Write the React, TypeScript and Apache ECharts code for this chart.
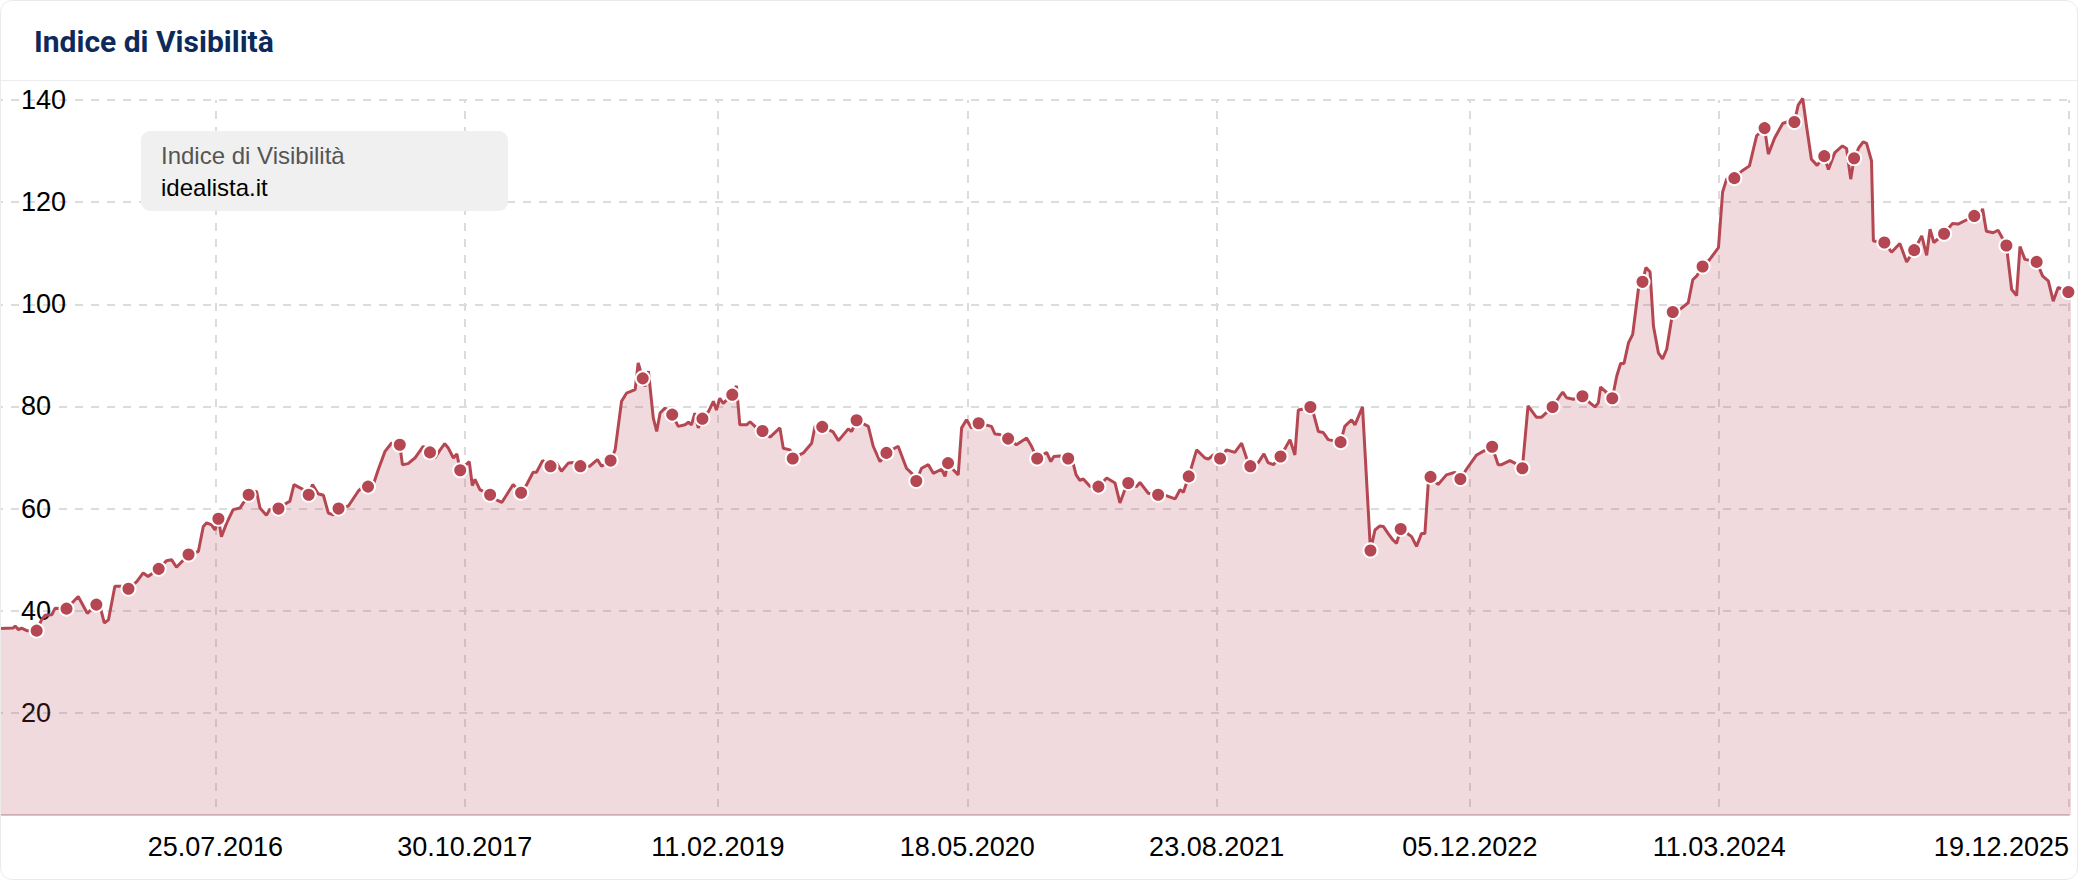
import React, { useEffect, useRef } from "react";
import * as echarts from "echarts";

// ---- data (weeks counted from the first data date, 22.06.2015) ----
const startDate = "22.06.2015";
const endDate = "19.12.2025";
const tickLabels = [
  "25.07.2016",
  "30.10.2017",
  "11.02.2019",
  "18.05.2020",
  "23.08.2021",
  "05.12.2022",
  "11.03.2024",
  "19.12.2025",
];

// line vertices [week, value]
const linePoints: [number, number][] = [
  [0, 36.5], [3.5, 36.6], [4.0, 37.0], [4.9, 36.3], [5.7, 36.6], [7.1, 36.1],
  [11.0, 38.2], [11.9, 39.1], [13.7, 39.2], [14.6, 40.5],
  [20.7, 42.8], [23.1, 39.5], [24.3, 40.3],
  [26.5, 40.8], [27.6, 37.6], [28.7, 38.2], [30.4, 44.8], [32.6, 44.8],
  [36.2, 45.7], [37.9, 47.4], [39.2, 46.7],
  [44.1, 49.8], [45.4, 50.0], [46.7, 48.5], [48.1, 49.6],
  [52.5, 51.6], [53.8, 56.5], [54.7, 57.2], [56.0, 56.8], [56.9, 55.8],
  [58.6, 54.5], [60.0, 57.2], [61.7, 59.8], [63.5, 60.1], [64.4, 61.1],
  [67.9, 63.4], [68.8, 60.1], [70.5, 58.7], [71.4, 59.8],
  [75.9, 61.1], [76.7, 61.4], [77.8, 64.7], [80.3, 63.7],
  [82.7, 64.7], [84.2, 62.9], [85.6, 62.6], [86.9, 59.1], [88.2, 58.8],
  [92.2, 60.5], [94.8, 63.4], [96.1, 64.3],
  [98.8, 64.7], [100.1, 67.6], [101.9, 71.2], [103.6, 72.8],
  [106.5, 68.6], [108.0, 68.8], [109.8, 69.9], [112.0, 72.2],
  [115.1, 69.9], [116.4, 71.4], [117.7, 72.7], [118.6, 71.9], [120.0, 69.9], [120.9, 70.7],
  [124.2, 69.2], [125.0, 64.5], [125.7, 65.7], [127.0, 63.7],
  [131.4, 61.7], [132.8, 61.2], [134.1, 62.7], [135.8, 64.7],
  [139.4, 64.7], [141.1, 67.1], [142.0, 67.1], [143.6, 69.4],
  [147.3, 68.9], [148.6, 67.3], [150.4, 68.9], [152.2, 69.0],
  [156.1, 68.3], [158.1, 69.6], [159.2, 68.3],
  [162.8, 71.5], [164.5, 81.0], [165.8, 82.6], [168.1, 83.3], [168.9, 88.5],
  [170.7, 83.9], [171.6, 86.9], [172.9, 77.7], [173.8, 75.1], [174.7, 78.7], [176.0, 79.7],
  [179.5, 76.1], [181.3, 76.4], [182.2, 76.9], [183.0, 76.4], [183.9, 78.7], [184.8, 75.8],
  [187.5, 79.0], [188.8, 81.0], [189.6, 79.3], [190.5, 81.6], [191.4, 80.6],
  [194.9, 84.0], [195.8, 76.4], [197.6, 76.4], [198.5, 77.0], [199.8, 76.1],
  [203.8, 74.0], [206.4, 75.8], [207.3, 71.8], [209.1, 71.5],
  [212.6, 70.9], [214.8, 72.8], [215.7, 76.1],
  [220.5, 75.0], [221.9, 73.3], [224.5, 75.6], [225.4, 75.1],
  [229.8, 76.1], [231.1, 72.2], [232.9, 69.2],
  [237.7, 72.2], [239.9, 67.9], [241.3, 66.9],
  [243.9, 67.9], [245.7, 68.6], [247.0, 66.9], [249.2, 67.7], [250.1, 66.3],
  [252.3, 67.6], [253.6, 66.6], [254.5, 75.8], [255.8, 77.4], [257.1, 75.8],
  [262.4, 76.1], [263.3, 74.6], [264.6, 74.5],
  [269.0, 72.5], [271.7, 73.8], [273.0, 72.2],
  [277.0, 71.0], [278.1, 69.2], [278.9, 70.2], [280.5, 70.3],
  [284.1, 68.6], [284.8, 66.6], [285.8, 65.5], [286.7, 65.8], [288.5, 64.3],
  [292.9, 66.0], [295.1, 65.0], [296.4, 61.1], [297.7, 63.7],
  [300.8, 64.3], [301.7, 65.1], [303.9, 63.0],
  [308.8, 62.5], [311.0, 61.9], [312.3, 63.7], [313.2, 63.2],
  [316.7, 71.5], [318.9, 69.9], [319.8, 69.7], [321.1, 70.5],
  [324.6, 71.5], [326.8, 71.0], [328.6, 72.8], [329.9, 69.9],
  [333.0, 69.0], [334.5, 70.7], [335.6, 69.0], [337.0, 68.6],
  [341.4, 73.5], [342.7, 70.5], [343.6, 79.3], [344.9, 79.5],
  [347.6, 78.7], [348.9, 75.1], [350.2, 74.9], [351.5, 73.5], [352.8, 73.3],
  [355.9, 76.1], [357.7, 77.4], [358.6, 76.4], [360.6, 79.9],
  [363.9, 55.8], [365.2, 56.6], [366.1, 56.5], [367.4, 55.1], [368.7, 53.8], [369.6, 53.2],
  [372.3, 55.2], [373.6, 54.5], [374.9, 52.6], [376.2, 55.1], [377.1, 55.1], [378.0, 65.0],
  [380.6, 64.7], [382.8, 66.6], [385.0, 67.1],
  [388.1, 67.7], [390.8, 70.5], [392.5, 71.2],
  [396.5, 68.6], [397.4, 68.6], [399.6, 69.4], [400.9, 68.9],
  [404.4, 80.1], [406.6, 77.9], [408.0, 77.9],
  [412.8, 82.0], [413.6, 82.8], [414.6, 81.7], [416.4, 81.4],
  [420.8, 80.7], [422.1, 79.9], [423.0, 80.7], [423.6, 83.8], [424.8, 83.0],
  [427.9, 86.0], [428.9, 88.4], [429.8, 88.4], [431.0, 92.5], [432.1, 94.1], [433.6, 102.9],
  [435.6, 107.2], [436.7, 106.3], [437.6, 95.7], [438.9, 90.5], [440.0, 89.3], [441.1, 91.2],
  [444.6, 99.0], [446.8, 100.3], [448.0, 104.8], [449.0, 105.5],
  [452.5, 108.8], [454.8, 111.1], [455.9, 122.0], [457.0, 124.6],
  [461.0, 126.1], [463.0, 127.1], [464.9, 133.0],
  [468.0, 129.4], [469.7, 132.6], [471.8, 135.4], [473.7, 135.9],
  [475.9, 139.0], [477.1, 140.3], [478.1, 134.9], [479.4, 128.4], [480.9, 127.2],
  [483.9, 126.4], [485.6, 129.7], [487.6, 131.0], [488.7, 130.5], [489.8, 124.5],
  [492.0, 130.7], [493.1, 131.8], [494.0, 131.5], [495.3, 128.1], [495.8, 112.4],
  [500.6, 110.2], [502.8, 111.9], [504.6, 108.3],
  [508.6, 113.4], [509.9, 109.6], [510.8, 114.7], [511.8, 112.1],
  [516.7, 115.8], [518.2, 115.7], [520.4, 116.5],
  [523.8, 116.6], [524.7, 118.7], [525.7, 114.3], [527.5, 114.0], [528.8, 114.5],
  [532.4, 102.9], [533.7, 101.7], [534.6, 111.3], [535.9, 108.8],
  [540.6, 105.5], [542.1, 104.6], [543.4, 100.6], [544.7, 103.3],
  [549.8, 102.3],
];

// marked points [week, value]
const dotPoints: [number, number][] = [
  [9.7, 36.1], [17.6, 40.4], [25.5, 41.2], [34.0, 44.3], [42.0, 48.2], [49.9, 51.0],
  [57.8, 58.0], [65.8, 62.7], [73.7, 60.0], [81.7, 62.7], [89.6, 60.0], [97.4, 64.3],
  [105.8, 72.5], [113.8, 71.0], [121.8, 67.5], [129.7, 62.7], [137.9, 63.1], [145.7, 68.3],
  [153.6, 68.3], [161.6, 69.4], [170.1, 85.5], [177.9, 78.4], [185.9, 77.6], [193.8, 82.3],
  [201.8, 75.2], [209.8, 69.8], [217.6, 76.0], [226.7, 77.3], [234.6, 70.9], [242.5, 65.4],
  [250.9, 68.9], [259.0, 76.7], [266.8, 73.7], [274.5, 69.8], [282.7, 69.8], [290.7, 64.3],
  [298.6, 65.0], [306.5, 62.7], [314.6, 66.3], [322.9, 69.8], [330.9, 68.3], [338.9, 70.2],
  [346.8, 79.9], [354.8, 73.0], [362.7, 51.8], [370.7, 56.0], [378.6, 66.2], [386.5, 65.8],
  [394.9, 72.1], [402.9, 67.9], [410.9, 79.9], [418.8, 82.0], [426.7, 81.6], [434.7, 104.4],
  [442.7, 98.5], [450.6, 107.4], [459.0, 124.7], [467.0, 134.5], [474.9, 135.7], [482.8, 129.0],
  [490.7, 128.6], [498.7, 112.1], [506.6, 110.6], [514.5, 113.8], [522.5, 117.3], [531.0, 111.5],
  [539.0, 108.3], [547.4, 102.4],
];

const yMin = 0;
const yMax = 140;
const yStep = 20;

const titleText = "Indice di Visibilità";
const legendTitle = "Indice di Visibilità";
const legendName = "idealista.it";

const LINE_COLOR = "#b54753";

function dayNumber(s: string): number {
  const [d, m, y] = s.split(".").map(Number);
  return Math.round(Date.UTC(y, m - 1, d) / 86400000);
}

export default function App() {
  const ref = useRef<HTMLDivElement>(null);

  useEffect(() => {
    document.body.style.margin = "0";
    if (!ref.current) return;
    const chart = echarts.init(ref.current, undefined, { renderer: "svg" });
    const d0 = dayNumber(startDate);
    const toWeek = (s: string) => (dayNumber(s) - d0) / 7;
    const xMax = toWeek(endDate);
    const tickWeeks = tickLabels.map(toWeek);

    const merged = [
      ...linePoints.map((p) => ({ w: p[0], v: p[1], dot: false })),
      ...dotPoints.map((p) => ({ w: p[0], v: p[1], dot: true })),
    ].sort((a, b) => a.w - b.w);

    const data = merged.map((p) => ({
      value: [p.w, p.v],
      symbol: p.dot ? "circle" : "none",
    }));

    const gridLine = {
      color: "#dcdcdc",
      width: 2,
      type: [8, 8] as number[],
      dashOffset: 5,
    };

    chart.setOption({
      animation: false,
      title: {
        text: titleText,
        left: 29,
        top: 21,
        textStyle: {
          fontFamily: "Roboto",
          fontWeight: "bold",
          fontSize: 30,
          color: "#0d2a5a",
        },
      },
      grid: {
        left: 0,
        right: 9,
        top: 100,
        bottom: 65,
        containLabel: false,
        outerBoundsMode: "none",
      },
      xAxis: {
        type: "value",
        min: 0,
        max: xMax,
        axisLine: { show: true, lineStyle: { color: "#d2c8ca", width: 2 } },
        axisTick: { show: false, customValues: tickWeeks },
        axisLabel: {
          customValues: tickWeeks,
          formatter: (v: number) => {
            const i = tickWeeks.findIndex((t) => Math.abs(t - v) < 1e-6);
            return i >= 0 ? tickLabels[i] : "";
          },
          fontFamily: "Liberation Sans, Arial, sans-serif",
          fontSize: 27,
          color: "#000",
          margin: 18,
          alignMaxLabel: "right",
          showMaxLabel: true,
          hideOverlap: false,
        },
        splitLine: { show: true, lineStyle: gridLine },
      },
      yAxis: {
        type: "value",
        min: yMin,
        max: yMax,
        interval: yStep,
        axisLine: { show: false },
        axisTick: { show: false },
        axisLabel: {
          inside: true,
          margin: 21,
          fontFamily: "Liberation Sans, Arial, sans-serif",
          fontSize: 27,
          color: "#000",
          showMinLabel: false,
        },
        splitLine: { show: true, lineStyle: gridLine },
      },
      graphic: [
        {
          type: "line",
          shape: { x1: 0, y1: 80.5, x2: 2078, y2: 80.5 },
          style: { stroke: "#ececec", lineWidth: 1 },
          silent: true,
        },
        {
          type: "rect",
          shape: { x: 141, y: 131, width: 367, height: 80, r: 9 },
          style: { fill: "#f0f0f0" },
          silent: true,
          z: 10,
        },
        {
          type: "text",
          x: 161,
          y: 155,
          style: {
            text: legendTitle,
            fill: "#555555",
            font: "24px 'Liberation Sans', Arial, sans-serif",
            verticalAlign: "middle",
          },
          silent: true,
          z: 11,
        },
        {
          type: "text",
          x: 161,
          y: 187,
          style: {
            text: legendName,
            fill: "#000000",
            font: "24px 'Liberation Sans', Arial, sans-serif",
            verticalAlign: "middle",
          },
          silent: true,
          z: 11,
        },
      ],
      series: [
        {
          type: "line",
          data,
          clip: false,
          showSymbol: true,
          showAllSymbol: true,
          symbol: "none",
          symbolSize: 14,
          silent: true,
          emphasis: { disabled: true },
          lineStyle: { color: LINE_COLOR, width: 3 },
          itemStyle: { color: LINE_COLOR, borderColor: "#ffffff", borderWidth: 2 },
          areaStyle: { color: "rgba(181, 71, 83, 0.2)", opacity: 1 },
        },
      ],
    });
    return () => chart.dispose();
  }, []);

  return (
    <div style={{ position: "relative", width: 2078, height: 880, background: "#fff" }}>
      <div ref={ref} style={{ position: "absolute", left: 0, top: 0, width: 2078, height: 880 }} />
      <div
        style={{
          position: "absolute",
          left: 0,
          top: 0,
          width: 2078,
          height: 880,
          boxSizing: "border-box",
          border: "1px solid #ebebeb",
          borderRadius: 12,
          pointerEvents: "none",
        }}
      />
    </div>
  );
}
